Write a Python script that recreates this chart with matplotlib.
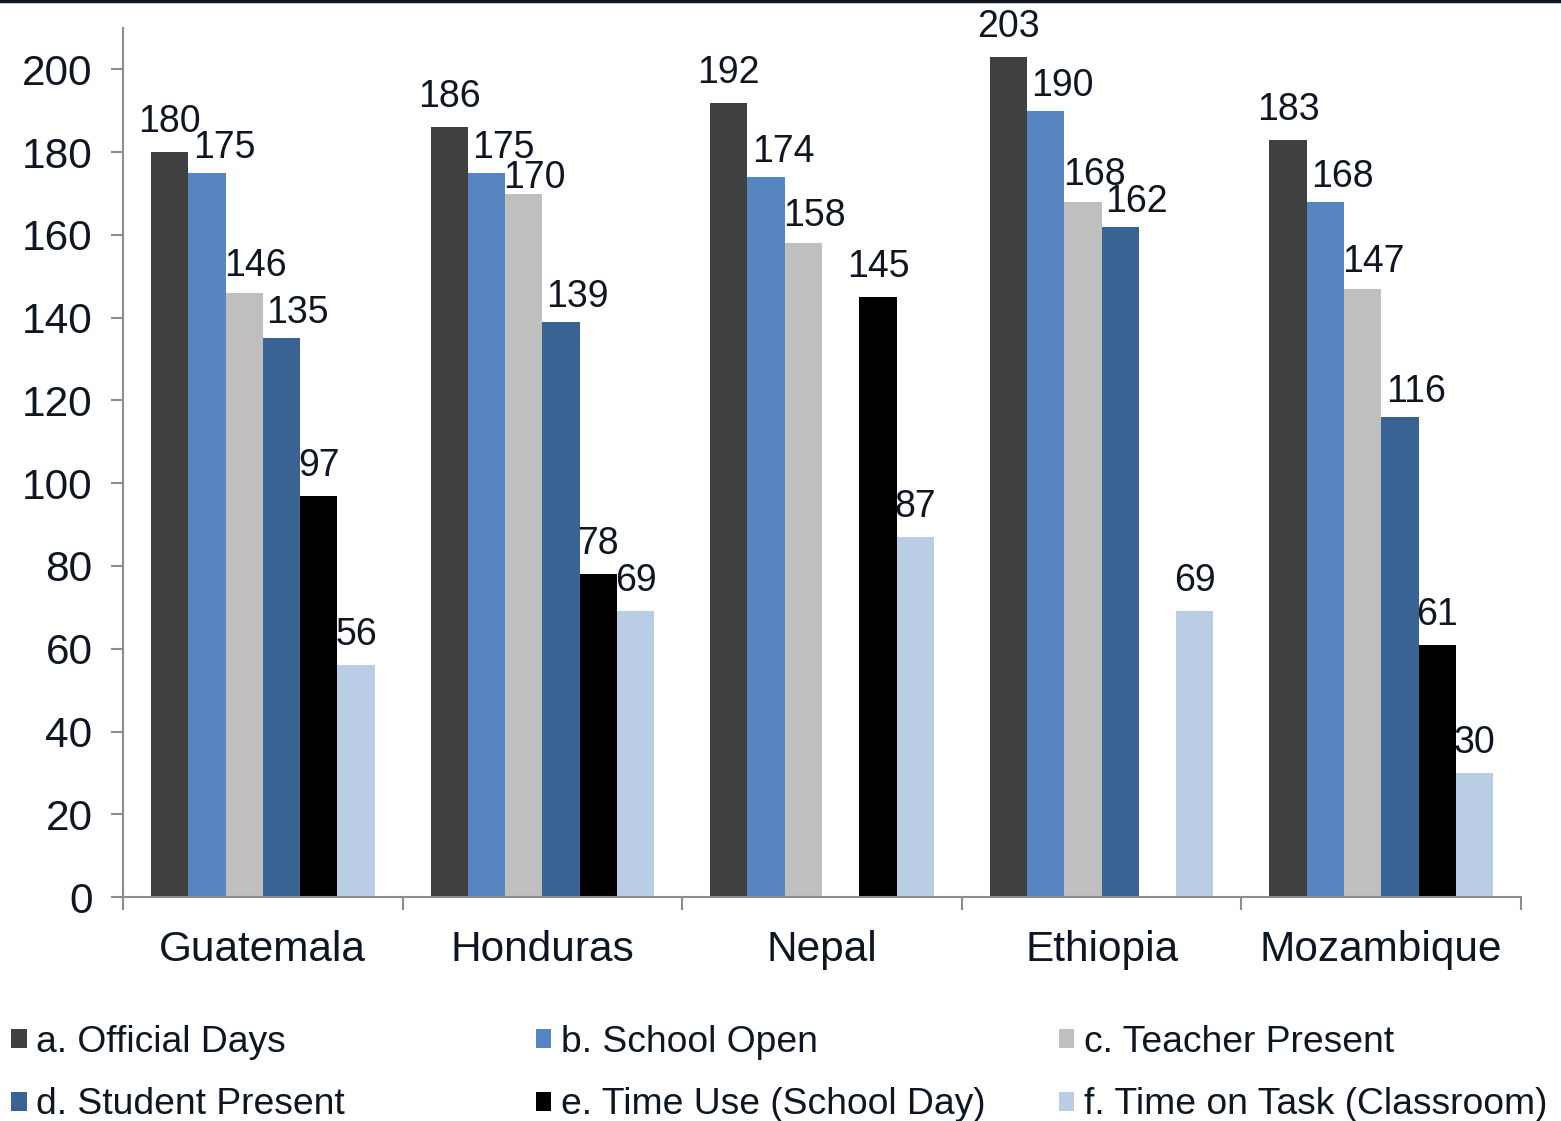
import numpy as np
import matplotlib.pyplot as plt
from matplotlib.patches import Patch
from matplotlib.lines import Line2D

plt.rcParams['font.family'] = ['Liberation Sans', 'DejaVu Sans']

countries = ["Guatemala", "Honduras", "Nepal", "Ethiopia", "Mozambique"]
series = ["a. Official Days", "b. School Open", "c. Teacher Present",
          "d. Student Present", "e. Time Use (School Day)",
          "f. Time on Task (Classroom)"]
official = [180, 186, 192, 203, 183]
school_open = [175, 175, 174, 190, 168]
teacher = [146, 170, 158, 168, 147]
student = [135, 139, np.nan, 162, 116]
time_use = [97, 78, 145, np.nan, 61]
time_task = [56, 69, 87, 69, 30]

colors = ['#404040', '#5685c1', '#bfbfbf', '#386393', '#000000', '#b9cde5']
# label shifts (pixels), like excel does to keep labels apart
label_dx = [0, 17, 11, 16, 0, 0]
label_dy = [20, 15, 17, 15, 20, 20]
nudge = {(1, 2): -11}  # Honduras / teacher present sits lower
txt = '#0d1621'
axc = '#8c8c8c'

data = [official, school_open, teacher, student, time_use, time_task]

fig = plt.figure(figsize=(15.61, 11.21), dpi=100)
ax = fig.add_axes([0.0788, 0.1998, 0.8956, 0.7752])

x = np.arange(len(countries))
w = 0.8 / 6
for i, vals in enumerate(data):
    pos = x - 0.4 + w * (i + 0.5)
    ax.bar(pos, vals, w, color=colors[i], label=series[i])
    for j, (p, v) in enumerate(zip(pos, vals)):
        if np.isnan(v):
            continue
        dy = label_dy[i] + nudge.get((j, i), 0)
        ax.annotate(str(int(v)), (p, v), xytext=(label_dx[i], dy),
                    textcoords='offset pixels', ha='center', va='baseline',
                    fontsize=27, color=txt)

ax.set_xlim(-0.5, 4.5)
ax.set_ylim(0, 210)
ax.set_yticks(range(0, 201, 20))
ax.set_xticks(np.arange(-0.5, 4.6, 1))
ax.set_xticklabels([])
ax.set_xticks(x, minor=True)
ax.set_xticklabels(countries, minor=True, fontsize=30.5, color=txt)
ax.tick_params(axis='x', which='major', length=9, width=1.5, color=axc, direction='out')
ax.tick_params(axis='x', which='minor', length=0, pad=24)
ax.tick_params(axis='y', length=9, width=1.5, color=axc, pad=13, labelsize=30.5, labelcolor=txt)
for s in ['top', 'right']:
    ax.spines[s].set_visible(False)
for s in ['left', 'bottom']:
    ax.spines[s].set_color(axc)
    ax.spines[s].set_linewidth(1.5)

# legend: three equal-width columns
xs = [0.0, 0.336, 0.671]
for c in range(3):
    hs = [Patch(facecolor=colors[c], label=series[c]),
          Patch(facecolor=colors[c + 3], label=series[c + 3])]
    fig.legend(handles=hs, loc='upper left', bbox_to_anchor=(xs[c], 0.096), frameon=False,
               fontsize=26.8, handlelength=0.42, handleheight=0.42, handletextpad=0.25,
               labelspacing=0.75, borderaxespad=0, borderpad=0.3, labelcolor=txt)

fig.add_artist(Line2D([0, 1], [0.999, 0.999], color=txt, lw=2.5))

fig.savefig('out.png', dpi=100)
